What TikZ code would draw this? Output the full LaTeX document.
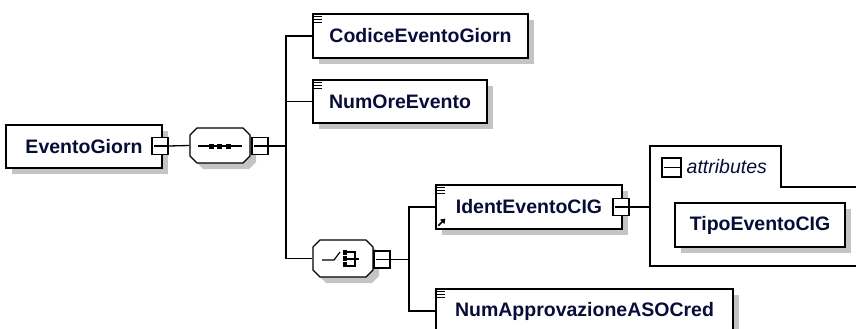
\documentclass[tikz,border=0pt]{standalone}
\usepackage{fontspec}
\setmainfont{Liberation Sans}
\usetikzlibrary{shadows,arrows.meta}
\definecolor{txtc}{RGB}{8,12,56}
\definecolor{shadc}{RGB}{196,196,196}
\newcommand\myocta[4]{(#1+7,#2) -- (#3-7,#2) -- (#3,#2+7) -- (#3,#4-7) -- (#3-7,#4) -- (#1+7,#4) -- (#1,#4-7) -- (#1,#2+7) -- cycle}
\begin{document}
\begin{tikzpicture}[x=1pt,y=-1pt,line width=1.3pt,
  shad/.style={drop shadow={shadow xshift=6pt,shadow yshift=-6pt,fill=shadc,opacity=1}},
  elem/.style={draw,fill=white,shad,inner sep=0pt,minimum height=44pt,text=txtc,font=\fontsize{19.5}{22}\selectfont\bfseries},
  minusbox/.style={draw,fill=white,inner sep=0pt,minimum width=16pt,minimum height=17pt,line width=1.2pt,
    path picture={\draw[line width=1.2pt] ([xshift=2pt]path picture bounding box.west) -- (path picture bounding box.east);}},
  compnode/.style={inner sep=0pt,minimum width=60pt,minimum height=36pt},
  conn/.style={line width=1.3pt}]
\useasboundingbox (0,0) rectangle (856,329);
% attributes group outline
\draw[line width=1.3pt] (856,266) -- (650,266) -- (650,146) -- (781,146) -- (781,187) -- (856,187);
\node[minusbox,minimum width=19pt,minimum height=19pt] (m5) at (671.5,167.5) {};
\node[anchor=west,inner sep=0pt,text=txtc,font=\fontsize{19.5}{22}\selectfont\itshape] (attrlbl) at (686,167) {attributes};

% elements
\node[elem,minimum width=156pt,minimum height=43pt] (root) at (84,146.5) {EventoGiorn};
\node[elem,minimum width=215pt] (codice) at (420.5,36) {CodiceEventoGiorn};
\node[elem,minimum width=174pt,minimum height=43pt] (numore) at (400,101.5) {NumOreEvento};
\node[elem,minimum width=186pt] (ident) at (529,207) {IdentEventoCIG};
\node[elem,minimum width=297pt] (numapp) at (584.5,311) {NumApprovazioneASOCred};
\node[elem,minimum width=170pt] (tipo) at (760,225) {TipoEventoCIG};

% element icons
\foreach \n in {codice,numore,ident,numapp}{
  \foreach \d in {3,6,9}{
    \draw[line width=1.1pt] ([xshift=2pt,yshift=-\d pt]\n.north west) -- ++(8,0);
  }
}
% reference arrow
\draw[line width=1.5pt,-{Triangle[length=4.5pt,width=6pt]}] ([xshift=3pt,yshift=4pt]ident.south west) -- ++(7,-7);

% compositors
\fill[shadc] [shift={(6,6)}] \myocta{190}{128}{250}{163};
\draw[fill=white,line width=1.3pt] \myocta{190}{128}{250}{163};
\node[compnode] (seq) at (220,145.5) {};
\draw[line width=1.3pt] (198,146) -- (242,146);
\foreach \x in {211,219.5,228}{\fill (\x-2.5,143.5) rectangle ++(5,5);}

\fill[shadc] [shift={(6,6)}] \myocta{313}{240}{373}{277};
\draw[fill=white,line width=1.3pt] \myocta{313}{240}{373}{277};
\node[compnode,minimum height=37pt] (choice) at (343,258.5) {};
\draw[line width=1.2pt] (322,260) -- (334,260) -- (340,252);
\foreach \y in {252,258,264}{\fill (342.5,\y-2) rectangle ++(4.5,4.5);}
\draw[line width=1.2pt] (347,252) -- (355,252) -- (355,266) -- (347,266);
\draw[line width=1.2pt] (347,259) -- (359,259);

% minus boxes
\node[minusbox] (m1) at (160,146) {};
\node[minusbox] (m2) at (260,146) {};
\node[minusbox] (m3) at (382,259.5) {};
\node[minusbox] (m4) at (621,207) {};

% connectors
\coordinate (j1) at (286,146);
\coordinate (j2) at (409,259.5);
\coordinate (j3) at (650,207);
\draw[conn] (m1.east) -- (seq.west);
\draw[conn] (m2.east) -- (j1);
\draw[conn] (codice.west) -| (j1) |- (choice.west);
\draw[conn] (numore.west) -- (numore.west -| j1);
\draw[conn] (m3.east) -- (j2);
\draw[conn] (ident.west) -| (j2) |- (numapp.west);
\draw[conn] (m4.east) -- (j3);
\end{tikzpicture}
\end{document}
